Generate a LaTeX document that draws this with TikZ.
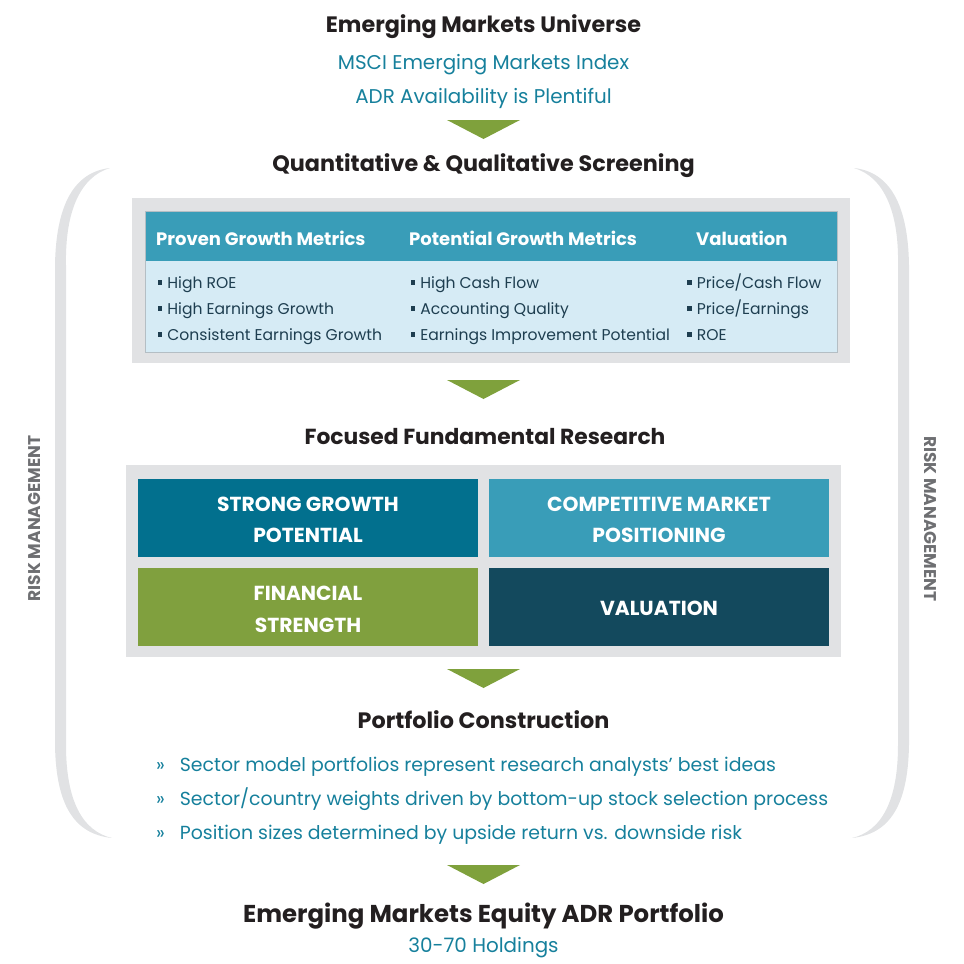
\documentclass[tikz,border=0pt]{standalone}
\usepackage{fontspec}
\setmainfont{Poppins}
\definecolor{inkdark}{RGB}{35,31,32}
\definecolor{inkteal}{RGB}{22,128,156}
\definecolor{inkslate}{RGB}{30,62,80}
\definecolor{hdrblue}{RGB}{57,157,184}
\definecolor{bodyblue}{RGB}{214,235,245}
\definecolor{panelgray}{RGB}{225,226,228}
\definecolor{rulegray}{RGB}{180,190,196}
\definecolor{riskgray}{RGB}{110,111,114}
\definecolor{arrowgreen}{RGB}{127,161,60}
\definecolor{boxdeep}{RGB}{2,112,142}
\definecolor{boxmid}{RGB}{57,157,184}
\definecolor{boxolive}{RGB}{128,160,62}
\definecolor{boxnavy}{RGB}{19,73,93}
\newcommand\sqbul{\rule[0.2em]{0.3em}{0.3em}\hspace{0.32em}}
\newcommand\rmbracket{%
  \fill[panelgray] (110,168) .. controls (74,172) and (56,205) .. (55,265)
    -- (55,745) .. controls (56,805) and (74,834) .. (112,838)
    .. controls (82,831) and (66,800) .. (66,745)
    -- (66,265) .. controls (65,212) and (80,177) .. (110,168) -- cycle;}
\begin{document}
\begin{tikzpicture}[x=1pt,y=-1pt,
  title/.style={font=\bfseries\fontsize{22.3}{26}\selectfont, text=inkdark, anchor=base, inner sep=0pt},
  bigtitle/.style={title, font=\bfseries\fontsize{24.4}{28}\selectfont},
  subline/.style={font=\fontsize{19.9}{23}\selectfont, text=inkteal, anchor=base, inner sep=0pt},
  colhead/.style={font=\bfseries\fontsize{18}{21}\selectfont, text=white, anchor=base west, inner sep=0pt},
  colitem/.style={font=\fontsize{15.6}{18}\selectfont, text=inkslate, anchor=base west, inner sep=0pt},
  boxtext/.style={font=\bfseries\fontsize{20.3}{24}\selectfont, text=white, anchor=base, inner sep=0pt},
  point/.style={font=\fontsize{18.9}{22}\selectfont, text=inkteal, anchor=base west, inner sep=0pt},
  risk/.style={font=\bfseries\fontsize{17}{20}\selectfont, text=riskgray, inner sep=0pt},
  downarrow/.style={fill=arrowgreen}]
\useasboundingbox (0,0) rectangle (964,964);

% risk management brackets on both sides
\rmbracket
\begin{scope}[xshift=964pt, xscale=-1]
  \rmbracket
\end{scope}
\node[risk, rotate=90] (riskL) at (34.5,518.5) {RISK MANAGEMENT};
\node[risk, rotate=-90] (riskR) at (930,519) {RISK MANAGEMENT};

% universe
\node[title] (universe) at (483.5,32) {Emerging Markets Universe};
\node[subline] (msci) at (483.5,69) {MSCI Emerging Markets Index};
\node[subline] (adr) at (483.5,103) {ADR Availability is Plentiful};
\fill[downarrow] (447,120) -- (520,120) -- (483.5,139) -- cycle;

% screening
\node[title] (screen) at (483.5,171) {Quantitative \& Qualitative Screening};
\fill[panelgray] (132,198) rectangle (850,363);
\fill[bodyblue] (145,261) rectangle (837,352);
\fill[hdrblue] (145,211) rectangle (837,261);
\draw[rulegray, line width=0.8pt] (145,211) rectangle (837,352);
\node[colhead] (h1) at (156,245) {Proven Growth Metrics};
\node[colhead] (h2) at (409,245) {Potential Growth Metrics};
\node[colhead] (h3) at (696,245) {Valuation};
\node[colitem] (a1) at (157.5,288) {\sqbul High ROE};
\node[colitem] (a2) at (157.5,314) {\sqbul High Earnings Growth};
\node[colitem] (a3) at (157.5,340) {\sqbul Consistent Earnings Growth};
\node[colitem] (b1) at (410.5,288) {\sqbul High Cash Flow};
\node[colitem] (b2) at (410.5,314) {\sqbul Accounting Quality};
\node[colitem] (b3) at (410.5,340) {\sqbul Earnings Improvement Potential};
\node[colitem] (c1) at (687,288) {\sqbul Price/Cash Flow};
\node[colitem] (c2) at (687,314) {\sqbul Price/Earnings};
\node[colitem] (c3) at (687,340) {\sqbul ROE};
\fill[downarrow] (447,380) -- (520,380) -- (483.5,399) -- cycle;

% research
\node[title, font=\bfseries\fontsize{21.8}{26}\selectfont] (research) at (485,444) {Focused Fundamental Research};
\fill[panelgray] (126,465) rectangle (841,657);
\fill[boxdeep] (138,479) rectangle (478,557);
\fill[boxmid] (489,479) rectangle (829,557);
\fill[boxolive] (138,568) rectangle (478,646);
\fill[boxnavy] (489,568) rectangle (829,646);
\node[boxtext] (g1) at (308,511) {STRONG GROWTH};
\node[boxtext] (g2) at (308,542) {POTENTIAL};
\node[boxtext] (m1) at (659,511) {COMPETITIVE MARKET};
\node[boxtext] (m2) at (659,542) {POSITIONING};
\node[boxtext] (f1) at (308,600) {FINANCIAL};
\node[boxtext] (f2) at (308,632) {STRENGTH};
\node[boxtext] (v1) at (659,615) {VALUATION};
\fill[downarrow] (447,669) -- (520,669) -- (483.5,688) -- cycle;

% construction
\node[title] (construct) at (483.5,728) {Portfolio Construction};
\node[point] (p1) at (156,771) {»\hspace{15pt}Sector model portfolios represent research analysts’ best ideas};
\node[point] (p2) at (156,805) {»\hspace{15pt}Sector/country weights driven by bottom-up stock selection process};
\node[point] (p3) at (156,839) {»\hspace{15pt}Position sizes determined by upside return vs. downside risk};
\fill[downarrow] (447,865) -- (520,865) -- (483.5,884) -- cycle;

% result
\node[bigtitle] (portfolio) at (483.5,922) {Emerging Markets Equity ADR Portfolio};
\node[subline] (holdings) at (483.5,952) {30-70 Holdings};
\end{tikzpicture}
\end{document}
